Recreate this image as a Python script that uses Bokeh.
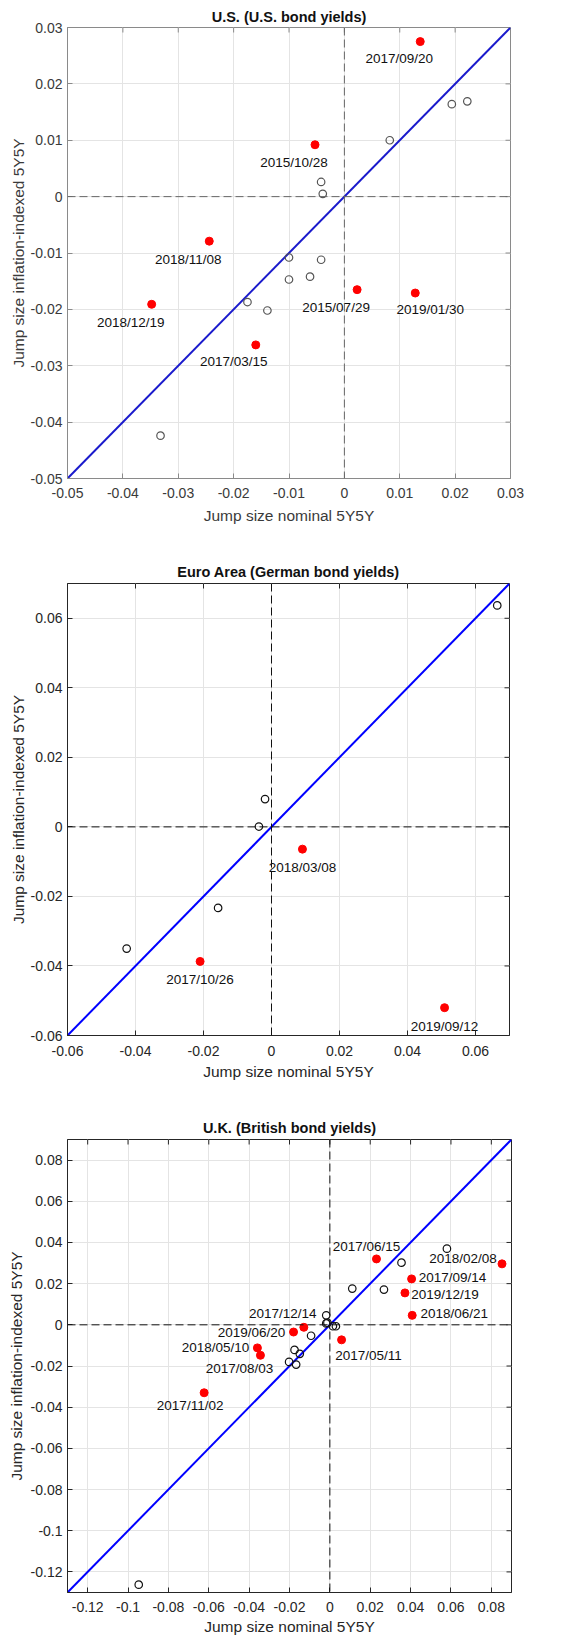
from bokeh.plotting import figure
from bokeh.layouts import column
from bokeh.models import ColumnDataSource, Span, FixedTicker, Range1d
from bokeh.embed import file_html
from bokeh.resources import INLINE
from bokeh.core.properties import value

# ---------------- DATA ----------------
# U.S.
us_limits = [-0.05, 0.03]
us_ticks = [-0.05, -0.04, -0.03, -0.02, -0.01, 0.0, 0.01, 0.02, 0.03]
us_tick_labels = ["-0.05", "-0.04", "-0.03", "-0.02", "-0.01", "0", "0.01", "0.02", "0.03"]
us_event_dates = ["2017/09/20", "2015/10/28", "2018/11/08", "2015/07/29", "2019/01/30", "2018/12/19", "2017/03/15"]
us_event_nominal = [0.0137, -0.0053, -0.0244, 0.0023, 0.0128, -0.0348, -0.0160]
us_event_inflation = [0.0275, 0.0092, -0.0079, -0.0165, -0.0171, -0.0191, -0.0263]
us_other_nominal = [0.0194, 0.0222, 0.0082, -0.0042, -0.0039, -0.0100, -0.0042, -0.0100, -0.0062, -0.0175, -0.0139, -0.0332]
us_other_inflation = [0.0164, 0.0169, 0.0100, 0.0026, 0.0005, -0.0108, -0.0112, -0.0147, -0.0142, -0.0187, -0.0202, -0.0424]

# Euro Area
ea_limits = [-0.06, 0.07]
ea_ticks = [-0.06, -0.04, -0.02, 0.0, 0.02, 0.04, 0.06]
ea_tick_labels = ["-0.06", "-0.04", "-0.02", "0", "0.02", "0.04", "0.06"]
ea_event_dates = ["2018/03/08", "2017/10/26", "2019/09/12"]
ea_event_nominal = [0.0091, -0.0210, 0.0509]
ea_event_inflation = [-0.0064, -0.0387, -0.0520]
ea_other_nominal = [0.0664, -0.0019, -0.0037, -0.0157, -0.0426]
ea_other_inflation = [0.0637, 0.0080, 0.0001, -0.0233, -0.0350]

# U.K.
uk_limits = [-0.13, 0.09]
uk_ticks = [-0.12, -0.1, -0.08, -0.06, -0.04, -0.02, 0.0, 0.02, 0.04, 0.06, 0.08]
uk_tick_labels = ["-0.12", "-0.1", "-0.08", "-0.06", "-0.04", "-0.02", "0", "0.02", "0.04", "0.06", "0.08"]
uk_event_dates = ["2017/06/15", "2018/02/08", "2017/09/14", "2019/12/19", "2018/06/21", "2017/12/14",
                  "2019/06/20", "2017/05/11", "2018/05/10", "2017/08/03", "2017/11/02"]
uk_event_nominal = [0.0231, 0.0853, 0.0405, 0.0372, 0.0408, -0.0129, -0.0180, 0.0058, -0.0359, -0.0344, -0.0623]
uk_event_inflation = [0.0320, 0.0296, 0.0223, 0.0155, 0.0046, -0.0012, -0.0035, -0.0073, -0.0112, -0.0148, -0.0330]
uk_other_nominal = [0.0580, 0.0355, 0.0111, 0.0268, -0.0018, -0.0018, -0.0012, 0.0015, 0.0030, -0.0093,
                    -0.0175, -0.0149, -0.0202, -0.0167, -0.0947]
uk_other_inflation = [0.0370, 0.0302, 0.0176, 0.0171, 0.0046, 0.0007, 0.0010, -0.0007, -0.0007, -0.0053,
                      -0.0122, -0.0141, -0.0180, -0.0193, -0.1262]

# label placement (screen px offsets from the point)
us_label_dx = [-21, -21, -21, -21, 15, -21, -22]
us_label_dy = [17, 18, 18, 18, 16, 18, 17]
ea_label_dx = [0, 0, 0]
ea_label_dy = [18, 18, 19]
uk_label_dx = [-10, -39, 41, 40, 42, -21, -42, 27, -42, -21, -14]
uk_label_dy = [-12, -5, -1, 2, -2, -14, 0, 16, 0, 13, 13]

FONT = "Liberation Sans"
TICK_PX = 5


def panel(title, limits, ticks, tick_labels, ev_x, ev_y, ev_lbl, dx, dy, ot_x, ot_y,
          frame_w, frame_h, bl, br, bt, bb, title_standoff, box_col, txt_col, dash_col, circ_col, diag_col,
          xl_standoff, xa_standoff, ya_standoff):
    p = figure(frame_width=frame_w, frame_height=frame_h, output_backend="svg", toolbar_location=None,
               x_range=Range1d(limits[0], limits[1]), y_range=Range1d(limits[0], limits[1]),
               min_border_left=bl, min_border_right=br, min_border_top=bt, min_border_bottom=bb,
               background_fill_color="white", border_fill_color="white")
    p.title.text = title
    p.title.align = "center"
    p.title.text_font = FONT
    p.title.text_font_size = "14.5px"
    p.title.text_font_style = "bold"
    p.title.text_color = "#111111"
    p.title.standoff = title_standoff
    p.title.offset = 0

    overrides = {t: l for t, l in zip(ticks, tick_labels)}
    for ax in (p.xaxis[0], p.yaxis[0]):
        ax.ticker = FixedTicker(ticks=ticks)
        ax.major_label_overrides = overrides
        ax.major_tick_in = TICK_PX
        ax.major_tick_out = 0
        ax.minor_tick_line_color = None
        ax.axis_line_color = box_col
        ax.major_tick_line_color = box_col
        ax.major_label_text_font = FONT
        ax.major_label_text_font_size = "14px"
        ax.major_label_text_color = txt_col
        ax.axis_label_text_font = FONT
        ax.axis_label_text_font_size = "15.5px"
        ax.axis_label_text_font_style = "normal"
        ax.axis_label_text_color = txt_col
    p.xaxis[0].axis_label = "Jump size nominal 5Y5Y"
    p.yaxis[0].axis_label = "Jump size inflation-indexed 5Y5Y"
    p.xaxis[0].major_label_standoff = xl_standoff
    p.xaxis[0].axis_label_standoff = xa_standoff
    p.yaxis[0].major_label_standoff = 5
    p.yaxis[0].axis_label_standoff = ya_standoff

    # inward tick marks on the top and right edges of the box
    span = limits[1] - limits[0]
    tl_x = TICK_PX * span / frame_h
    tl_y = TICK_PX * span / frame_w
    n = len(ticks)
    p.segment(x0=ticks, x1=ticks, y0=[limits[1]] * n, y1=[limits[1] - tl_x] * n,
              line_color=box_col, line_width=1)
    p.segment(x0=[limits[1]] * n, x1=[limits[1] - tl_y] * n, y0=ticks, y1=ticks,
              line_color=box_col, line_width=1)

    p.outline_line_color = box_col
    p.grid.grid_line_color = "#e4e4e4"
    p.grid.grid_line_width = 1
    p.xgrid.ticker = FixedTicker(ticks=ticks)
    p.ygrid.ticker = FixedTicker(ticks=ticks)

    p.add_layout(Span(location=0, dimension="width", line_color=dash_col, line_dash="8 4", line_width=1))
    p.add_layout(Span(location=0, dimension="height", line_color=dash_col, line_dash="8 4", line_width=1))

    p.line(x=limits, y=limits, line_color=diag_col, line_width=2)

    p.scatter(x=ot_x, y=ot_y, marker="circle", size=7.5, fill_color=None, line_color=circ_col, line_width=1.2)
    src = ColumnDataSource(dict(x=ev_x, y=ev_y, t=ev_lbl, dx=dx, dy=dy))
    p.scatter(x="x", y="y", source=src, marker="circle", size=8, fill_color="#ff0000", line_color="#ff0000")
    p.text(x="x", y="y", text="t", source=src, x_offset="dx", y_offset="dy",
           text_font=value(FONT), text_font_size="13.5px", text_color="#111111",
           text_align="center", text_baseline="middle")
    return p


p1 = panel("U.S. (U.S. bond yields)", us_limits, us_ticks, us_tick_labels,
           us_event_nominal, us_event_inflation, us_event_dates, us_label_dx, us_label_dy,
           us_other_nominal, us_other_inflation,
           443, 451, 66, 59, 27, 70, 6, "#8a8a8a", "#3a3a3a", "#666666", "#555555", "#1a1acc", 9, 6, 1)
p2 = panel("Euro Area (German bond yields)", ea_limits, ea_ticks, ea_tick_labels,
           ea_event_nominal, ea_event_inflation, ea_event_dates, ea_label_dx, ea_label_dy,
           ea_other_nominal, ea_other_inflation,
           442, 452, 67, 59, 35, 65, 7.5, "#262626", "#262626", "#111111", "#111111", "#0000ff", 10, 4, 1)
p3 = panel("U.K. (British bond yields)", uk_limits, uk_ticks, uk_tick_labels,
           uk_event_nominal, uk_event_inflation, uk_event_dates, uk_label_dx, uk_label_dy,
           uk_other_nominal, uk_other_inflation,
           444, 453, 62, 62, 39, 46, 7.5, "#262626", "#262626", "#111111", "#111111", "#0000ff", 9, 3, 3)

layout = column(p1, p2, p3, spacing=0)
open("out.html", "w").write(file_html(layout, INLINE))
